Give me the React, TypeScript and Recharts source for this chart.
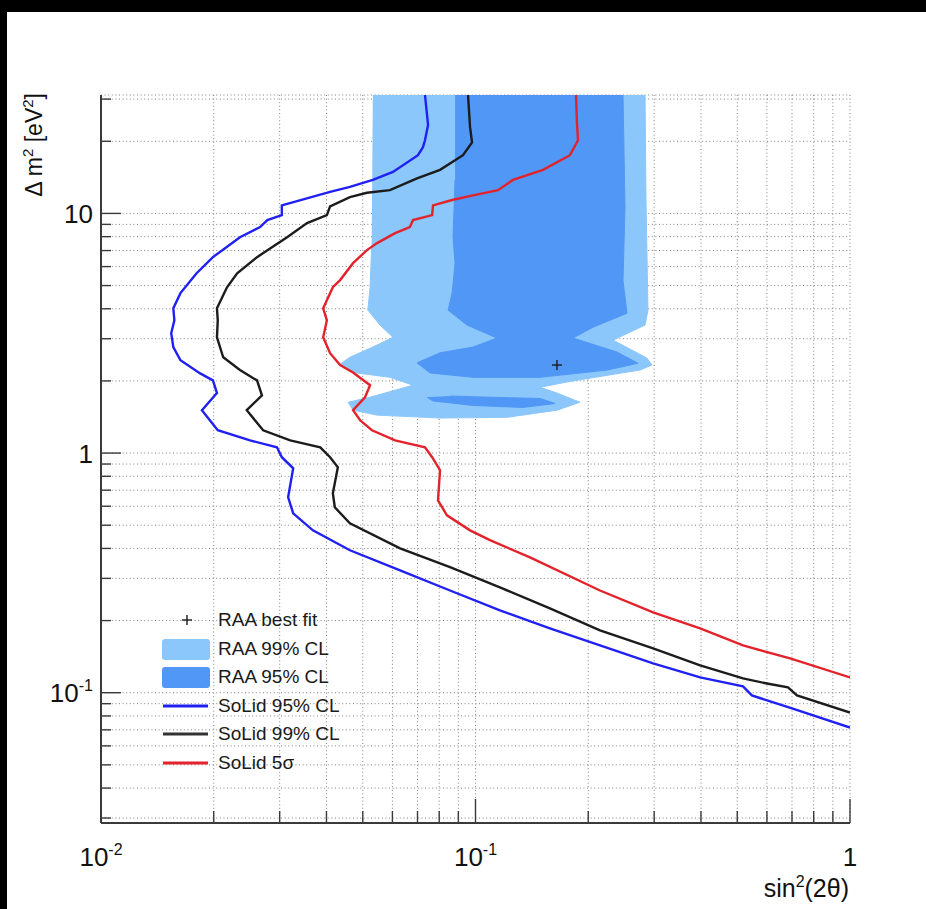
import { ScatterChart, Scatter, XAxis, YAxis, CartesianGrid, Legend } from "recharts";

const X_TICKS = [0.01, 0.02, 0.03, 0.04, 0.05, 0.06, 0.07, 0.08, 0.09, 0.1, 0.2, 0.3, 0.4, 0.5, 0.6, 0.7, 0.8, 0.9, 1];
const Y_TICKS = [
  0.03, 0.04, 0.05, 0.06, 0.07, 0.08, 0.09, 0.1, 0.2, 0.3, 0.4, 0.5, 0.6, 0.7, 0.8, 0.9,
  1, 2, 3, 4, 5, 6, 7, 8, 9, 10, 20, 30,
];
const X_MAJOR = [0.01, 0.1, 1];
const Y_MAJOR = [0.1, 1, 10];
const X_LABELS: Record<string, [string, string]> = { "0.01": ["10", "-2"], "0.1": ["10", "-1"], "1": ["1", ""] };
const Y_LABELS: Record<string, [string, string]> = { "0.1": ["10", "-1"], "1": ["1", ""], "10": ["10", ""] };

// sin^2(2theta), delta m^2 pairs
const RAA_99: [number, number][] = [
  [0.0532, 31.2], [0.2836, 31.2], [0.2853, 11.4], [0.2888, 3.95], [0.2836, 3.42], [0.233, 2.96],
  [0.2869, 2.49], [0.296, 2.33], [0.2749, 2.22], [0.2245, 2.11], [0.1755, 1.98], [0.1487, 1.88],
  [0.1651, 1.78], [0.1901, 1.63], [0.1651, 1.51], [0.1214, 1.41], [0.0804, 1.4], [0.0546, 1.44],
  [0.0471, 1.51], [0.0457, 1.63], [0.0523, 1.71], [0.0681, 1.92], [0.0591, 2.07], [0.0471, 2.17],
  [0.0435, 2.35], [0.0462, 2.51], [0.0532, 2.77], [0.0602, 3.04], [0.0556, 3.42], [0.0516, 3.95],
  [0.0523, 4.92], [0.0528, 7.23],
];
const RAA_95: [number, number][] = [
  [0.0882, 31.2], [0.2477, 31.2], [0.2507, 10.6], [0.2477, 5.25], [0.2538, 3.83], [0.206, 3.35],
  [0.1821, 3.02], [0.2386, 2.64], [0.2716, 2.37], [0.2245, 2.22], [0.1487, 2.07], [0.0985, 2.07],
  [0.0756, 2.16], [0.0698, 2.38], [0.0804, 2.62], [0.0985, 2.77], [0.1141, 3.02], [0.0949, 3.42],
  [0.0845, 3.95], [0.0866, 4.65], [0.0882, 6.2], [0.0871, 7.96], [0.0882, 13.8],
];
const RAA_95_LOW: [number, number][] = [
  [0.0742, 1.71], [0.077, 1.65], [0.0985, 1.58], [0.1339, 1.55], [0.1631, 1.61], [0.1487, 1.69],
  [0.1093, 1.71], [0.0855, 1.73],
];
const SOLID_95: [number, number][] = [
  [0.0733, 31.2], [0.0747, 23.4], [0.0733, 20.2], [0.0724, 18.9], [0.0702, 17.5], [0.0602, 14.9],
  [0.0532, 13.8], [0.0462, 12.9], [0.0409, 12.3], [0.0304, 10.8], [0.0304, 9.84], [0.0278, 9.38],
  [0.0266, 8.77], [0.0235, 7.96], [0.0199, 6.57], [0.018, 5.63], [0.0163, 4.65], [0.0156, 4.02],
  [0.0157, 3.58], [0.0154, 3.16], [0.0156, 2.77], [0.0163, 2.44], [0.0184, 2.15], [0.0199, 2.01],
  [0.0204, 1.78], [0.0186, 1.51], [0.0205, 1.245], [0.025, 1.13], [0.0295, 1.057], [0.0304, 0.961],
  [0.0326, 0.864], [0.0316, 0.654], [0.0326, 0.56], [0.0368, 0.476], [0.0462, 0.393], [0.0629, 0.324],
  [0.0855, 0.267], [0.1162, 0.2206], [0.158, 0.1856], [0.215, 0.1576], [0.298, 0.1325], [0.398, 0.1158],
  [0.518, 0.1063], [0.547, 0.0974], [0.7, 0.086], [1.0, 0.0716],
];
const SOLID_99: [number, number][] = [
  [0.0955, 31.2], [0.0967, 22.9], [0.0979, 19.8], [0.0926, 17.5], [0.0804, 15.2], [0.0698, 14.0],
  [0.0591, 12.5], [0.0513, 12.2], [0.0462, 11.7], [0.0409, 10.7], [0.0401, 9.84], [0.0355, 9.11],
  [0.0314, 7.96], [0.0261, 6.57], [0.0231, 5.63], [0.0217, 4.92], [0.0204, 4.02], [0.0205, 3.58],
  [0.0204, 3.04], [0.0212, 2.51], [0.0235, 2.22], [0.0261, 2.01], [0.0269, 1.74], [0.0245, 1.51],
  [0.0271, 1.245], [0.032, 1.13], [0.0385, 1.057], [0.0409, 0.961], [0.0429, 0.872], [0.0416, 0.68],
  [0.0421, 0.594], [0.0462, 0.509], [0.0629, 0.4], [0.0855, 0.334], [0.1162, 0.275], [0.158, 0.225],
  [0.215, 0.182], [0.298, 0.1531], [0.398, 0.13], [0.518, 0.1147], [0.6, 0.1093], [0.683, 0.1052],
  [0.722, 0.0974], [1.0, 0.0827],
];
const SOLID_5S: [number, number][] = [
  [0.1855, 31.2], [0.1866, 23.8], [0.1878, 20.2], [0.1788, 17.5], [0.1514, 15.2], [0.1259, 13.8],
  [0.1148, 12.5], [0.0985, 11.9], [0.0871, 11.4], [0.077, 10.8], [0.0766, 9.84], [0.0681, 9.38],
  [0.0668, 8.77], [0.061, 8.27], [0.0546, 7.52], [0.0513, 7.03], [0.0471, 6.2], [0.0435, 5.27],
  [0.0416, 4.92], [0.0392, 4.02], [0.0401, 3.58], [0.0392, 3.04], [0.0409, 2.61], [0.0435, 2.33],
  [0.0471, 2.17], [0.0523, 1.92], [0.0507, 1.71], [0.0471, 1.51], [0.0492, 1.37], [0.0529, 1.245],
  [0.061, 1.13], [0.0733, 1.057], [0.0766, 0.961], [0.0804, 0.848], [0.0794, 0.635], [0.0839, 0.55],
  [0.0967, 0.476], [0.1093, 0.433], [0.1398, 0.367], [0.215, 0.267], [0.298, 0.2164], [0.398, 0.1856],
  [0.518, 0.1576], [0.692, 0.139], [1.0, 0.1158],
];
const BEST_FIT: [number, number][] = [[0.165, 2.33]];

const LIGHT = "#8bc7fb";
const DARK = "#5197f5";
const BLUE = "#2020f2";
const BLACK = "#1c1c1c";
const RED = "#e3232b";
const FONT = "'Liberation Sans', Arial, Helvetica, sans-serif";
const AXIS = "#3a3a3a";

const LEGEND_ROWS = [
  { label: "RAA best fit", kind: "marker", color: BLACK },
  { label: "RAA 99% CL", kind: "box", color: LIGHT },
  { label: "RAA 95% CL", kind: "box", color: DARK },
  { label: "SoLid 95% CL", kind: "line", color: BLUE },
  { label: "SoLid 99% CL", kind: "line", color: "#333" },
  { label: "SoLid 5\u03c3", kind: "line", color: RED },
];

const toPoints = (pairs: [number, number][]) => pairs.map(([x, y]) => ({ x, y }));

const NoDot = () => null;

function BestFitMark(props: any) {
  const { cx, cy } = props;
  return (
    <g stroke={BLACK} strokeWidth={1.4}>
      <line x1={cx - 5} x2={cx + 5} y1={cy} y2={cy} />
      <line x1={cx} x2={cx} y1={cy - 5} y2={cy + 5} />
    </g>
  );
}

function TickText({ x, y, parts, anchor }: { x: number; y: number; parts: [string, string]; anchor: "start" | "middle" | "end" }) {
  return (
    <text x={x} y={y} textAnchor={anchor} fontSize={26} fontFamily={FONT} fill="#111">
      {parts[0]}
      {parts[1] ? (
        <tspan fontSize={16} dy={-11}>
          {parts[1]}
        </tspan>
      ) : null}
    </text>
  );
}

function BottomTick(props: any) {
  const { x, y, payload } = props;
  const v = payload.value;
  const len = X_MAJOR.includes(v) ? 24 : 12;
  const lab = X_LABELS[String(v)];
  return (
    <g>
      <line x1={x} x2={x} y1={y} y2={y - len} stroke={AXIS} strokeWidth={1.4} />
      {lab && <TickText x={x} y={y + 43} parts={lab} anchor="middle" />}
    </g>
  );
}

function LeftTick(props: any) {
  const { x, y, payload } = props;
  const v = payload.value;
  const len = Y_MAJOR.includes(v) ? 20 : 10;
  const lab = Y_LABELS[String(v)];
  return (
    <g>
      <line x1={x} x2={x + len} y1={y} y2={y} stroke={AXIS} strokeWidth={1.4} />
      {lab && <TickText x={x - 8} y={y + 9.5} parts={lab} anchor="end" />}
    </g>
  );
}

function TopTick(props: any) {
  const { x, y, payload } = props;
  const len = X_MAJOR.includes(payload.value) ? 12 : 6;
  return <line x1={x} x2={x} y1={y} y2={y + len} stroke="#777" strokeWidth={1.2} />;
}

function RightTick(props: any) {
  const { x, y, payload } = props;
  const len = Y_MAJOR.includes(payload.value) ? 12 : 6;
  return <line x1={x} x2={x - len} y1={y} y2={y} stroke="#777" strokeWidth={1.2} />;
}

function YTitle(props: any) {
  const { viewBox } = props;
  const tx = viewBox.x + 42;
  const ty = viewBox.y - 2;
  return (
    <text
      x={tx}
      y={ty}
      transform={`rotate(-90 ${tx} ${ty})`}
      textAnchor="end"
      fontSize={23}
      fontFamily={FONT}
      fill="#111"
    >
      {"\u0394 m"}
      <tspan fontSize={15} dy={-9}>2</tspan>
      <tspan dy={9}>{" [eV"}</tspan>
      <tspan fontSize={15} dy={-9}>2</tspan>
      <tspan dy={9}>]</tspan>
    </text>
  );
}

function XTitle(props: any) {
  const { viewBox } = props;
  return (
    <text
      x={viewBox.x + viewBox.width - 1}
      y={viewBox.y + 74}
      textAnchor="end"
      fontSize={25}
      fontFamily={FONT}
      fill="#111"
    >
      sin
      <tspan fontSize={16} dy={-10}>2</tspan>
      <tspan dy={10}>{"(2\u03b8)"}</tspan>
    </text>
  );
}

function LegendBox() {
  return (
    <div style={{ fontFamily: FONT, fontSize: 19, color: "#1a1a1a" }}>
      {LEGEND_ROWS.map((row) => (
        <div key={row.label} style={{ display: "flex", alignItems: "center", height: 28.5 }}>
          <svg width={60} height={28.5} style={{ flex: "none" }}>
            {row.kind === "marker" && (
              <g stroke={row.color} strokeWidth={1.4}>
                <line x1={24} x2={34} y1={14} y2={14} />
                <line x1={29} x2={29} y1={9} y2={19} />
              </g>
            )}
            {row.kind === "box" && <rect x={4} y={4} width={48} height={21} rx={3} fill={row.color} />}
            {row.kind === "line" && (
              <line x1={5} x2={50} y1={14} y2={14} stroke={row.color} strokeWidth={3} />
            )}
          </svg>
          <span style={{ whiteSpace: "nowrap" }}>{row.label}</span>
        </div>
      ))}
    </div>
  );
}

export default function App() {
  return (
    <div style={{ position: "absolute", left: 0, top: 0, width: 926, height: 909, background: "#000" }}>
      <div style={{ position: "absolute", left: 7, top: 12, right: 0, bottom: 0, background: "#fff" }} />
      <div style={{ position: "absolute", left: 0, top: 0 }}>
        <ScatterChart width={926} height={909} margin={{ top: 95, right: 76, bottom: 0, left: 0 }}>
          <CartesianGrid stroke="#808080" strokeDasharray="1 2.6" strokeWidth={1} />
          <XAxis
            dataKey="x"
            type="number"
            scale="log"
            domain={[0.01, 1]}
            allowDataOverflow
            ticks={X_TICKS}
            interval={0}
            tickSize={0}
            tickMargin={0}
            tickLine={false}
            tick={<BottomTick />}
            height={86}
            axisLine={{ stroke: AXIS, strokeWidth: 2 }}
            label={{ content: <XTitle /> }}
          />
          <XAxis
            xAxisId="top"
            orientation="top"
            type="number"
            scale="log"
            domain={[0.01, 1]}
            allowDataOverflow
            ticks={X_TICKS}
            interval={0}
            tickSize={0}
            tickMargin={0}
            tickLine={false}
            tick={<TopTick />}
            height={0}
            axisLine={{ stroke: "#8c8c8c", strokeWidth: 2.5 }}
          />
          <YAxis
            dataKey="y"
            type="number"
            scale="log"
            domain={[0.0286, 31.2]}
            allowDataOverflow
            ticks={Y_TICKS}
            interval={0}
            tickSize={0}
            tickMargin={0}
            tickLine={false}
            tick={<LeftTick />}
            width={101}
            axisLine={{ stroke: AXIS, strokeWidth: 2 }}
            label={{ content: <YTitle /> }}
          />
          <YAxis
            yAxisId="right"
            orientation="right"
            type="number"
            scale="log"
            domain={[0.0286, 31.2]}
            allowDataOverflow
            ticks={Y_TICKS}
            interval={0}
            tickSize={0}
            tickMargin={0}
            tickLine={false}
            tick={<RightTick />}
            width={0}
            axisLine={{ stroke: "#8c8c8c", strokeWidth: 2.5 }}
          />
          <Scatter
            name="RAA 99% CL"
            data={toPoints(RAA_99)}
            fill={LIGHT}
            shape={<NoDot />}
            line={{ fill: LIGHT, stroke: LIGHT, strokeWidth: 1 }}
            isAnimationActive={false}
          />
          <Scatter
            name="RAA 95% CL"
            data={toPoints(RAA_95)}
            fill={DARK}
            shape={<NoDot />}
            line={{ fill: DARK, stroke: DARK, strokeWidth: 1 }}
            isAnimationActive={false}
          />
          <Scatter
            name="RAA 95% CL low"
            data={toPoints(RAA_95_LOW)}
            fill={DARK}
            shape={<NoDot />}
            line={{ fill: DARK, stroke: DARK, strokeWidth: 1 }}
            isAnimationActive={false}
          />
          <Scatter
            name="SoLid 95% CL"
            data={toPoints(SOLID_95)}
            fill={BLUE}
            shape={<NoDot />}
            line={{ stroke: BLUE, strokeWidth: 2.4 }}
            isAnimationActive={false}
          />
          <Scatter
            name="SoLid 99% CL"
            data={toPoints(SOLID_99)}
            fill={BLACK}
            shape={<NoDot />}
            line={{ stroke: BLACK, strokeWidth: 2.4 }}
            isAnimationActive={false}
          />
          <Scatter
            name="SoLid 5 sigma"
            data={toPoints(SOLID_5S)}
            fill={RED}
            shape={<NoDot />}
            line={{ stroke: RED, strokeWidth: 2.4 }}
            isAnimationActive={false}
          />
          <Scatter
            name="RAA best fit"
            data={toPoints(BEST_FIT)}
            fill={BLACK}
            shape={<BestFitMark />}
            isAnimationActive={false}
          />
          <Legend
            layout="vertical"
            align="center"
            verticalAlign="middle"
            content={<LegendBox />}
            wrapperStyle={{ left: 158, top: 606, width: 240 }}
          />
        </ScatterChart>
      </div>
    </div>
  );
}
